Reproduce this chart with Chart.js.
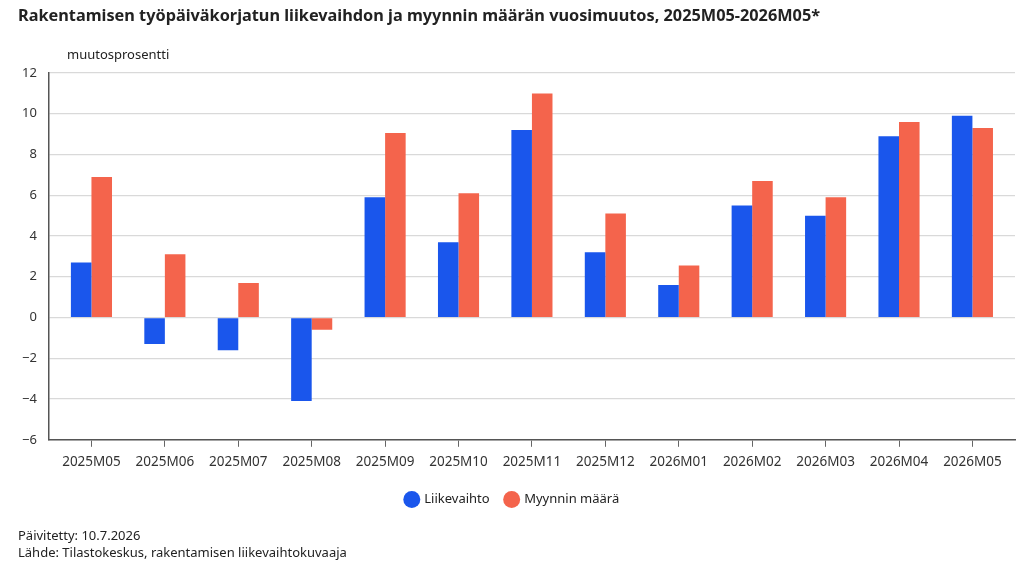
<!DOCTYPE html>
<html lang="fi">
<head>
<meta charset="utf-8">
<script src="https://cdn.jsdelivr.net/npm/chart.js@4"></script>
<style>
  html, body { margin: 0; padding: 0; background: #fff; }
  body { width: 1024px; height: 576px; position: relative; overflow: hidden; font-family: "Noto Sans", sans-serif; color: #222; }
  #wrap { position: absolute; left: 0; top: 0; width: 1024px; height: 576px; }
  .title { position: absolute; left: 18px; top: 4px; font-size: 16.3px; font-weight: bold; }
  .unit { position: absolute; left: 67px; top: 45px; font-size: 13px; }
  .foot { position: absolute; left: 18px; font-size: 13px; }
</style>
</head>
<body>
<div id="wrap"><canvas id="chart" width="1024" height="576"></canvas></div>
<div class="title">Rakentamisen työpäiväkorjatun liikevaihdon ja myynnin määrän vuosimuutos, 2025M05-2026M05*</div>
<div class="unit">muutosprosentti</div>
<div class="foot" style="top:526px">Päivitetty: 10.7.2026</div>
<div class="foot" style="top:543px">Lähde: Tilastokeskus, rakentamisen liikevaihtokuvaaja</div>
<script>
// kuukaudet
const months = ['2025M05', '2025M06', '2025M07', '2025M08', '2025M09', '2025M10', '2025M11',
    '2025M12', '2026M01', '2026M02', '2026M03', '2026M04', '2026M05'];

// sarjat (luettu kuvasta)
const liikevaihto = [2.7, -1.3, -1.6, -4.1, 5.9, 3.7, 9.2, 3.2, 1.6, 5.5, 5.0, 8.9, 9.9];
const myynninMaara = [6.9, 3.1, 1.7, -0.6, 9.05, 6.1, 11.0, 5.1, 2.55, 6.7, 5.9, 9.6, 9.3];

const yMin = -6;
const yMax = 12;
const yStep = 2;

const fontFamily = '"Noto Sans", sans-serif';

// x-akseli lineaarisena, jotta reunoille jää vähän väljyyttä kuten alkuperäisessä
const xPad = 0.58;
const toPoints = (arr) => arr.map((v, i) => ({ x: i, y: v }));

new Chart(document.getElementById('chart').getContext('2d'), {
    type: 'bar',
    data: {
        datasets: [
            {
                label: 'Liikevaihto',
                data: toPoints(liikevaihto),
                backgroundColor: '#1a56ec',
                categoryPercentage: 0.56,
                barPercentage: 1.0,
            },
            {
                label: 'Myynnin määrä',
                data: toPoints(myynninMaara),
                backgroundColor: '#f4644c',
                categoryPercentage: 0.56,
                barPercentage: 1.0,
            },
        ],
    },
    options: {
        responsive: false,
        animation: false,
        layout: {
            padding: { top: 73, left: 10, right: 9, bottom: 60 },
        },
        plugins: {
            legend: {
                position: 'bottom',
                labels: {
                    usePointStyle: true,
                    pointStyle: 'circle',
                    boxWidth: 12,
                    boxHeight: 12,
                    padding: 16,
                    color: '#222',
                    font: { family: fontFamily, size: 13 },
                },
            },
            tooltip: { enabled: false },
        },
        scales: {
            x: {
                type: 'linear',
                min: -xPad,
                max: months.length - 1 + xPad,
                offset: false,
                afterBuildTicks: (scale) => {
                    scale.ticks = months.map((m, i) => ({ value: i }));
                },
                grid: {
                    offset: false,
                    drawOnChartArea: false,
                    drawTicks: true,
                    tickLength: 7,
                    color: '#666',
                },
                border: { color: '#555', width: 1.5 },
                ticks: {
                    color: '#333',
                    padding: 7,
                    maxRotation: 0,
                    autoSkip: false,
                    font: { family: fontFamily, size: 13.5 },
                    callback: (v) => months[v] ?? '',
                },
            },
            y: {
                min: yMin,
                max: yMax,
                grid: {
                    color: '#d9d9d9',
                    lineWidth: 1.2,
                    drawTicks: false,
                },
                border: { color: '#555', width: 1.5 },
                ticks: {
                    stepSize: yStep,
                    color: '#333',
                    padding: 12,
                    font: { family: fontFamily, size: 13 },
                    callback: (v) => String(v).replace('-', '\u2212'),
                },
            },
        },
    },
});
</script>
</body>
</html>
